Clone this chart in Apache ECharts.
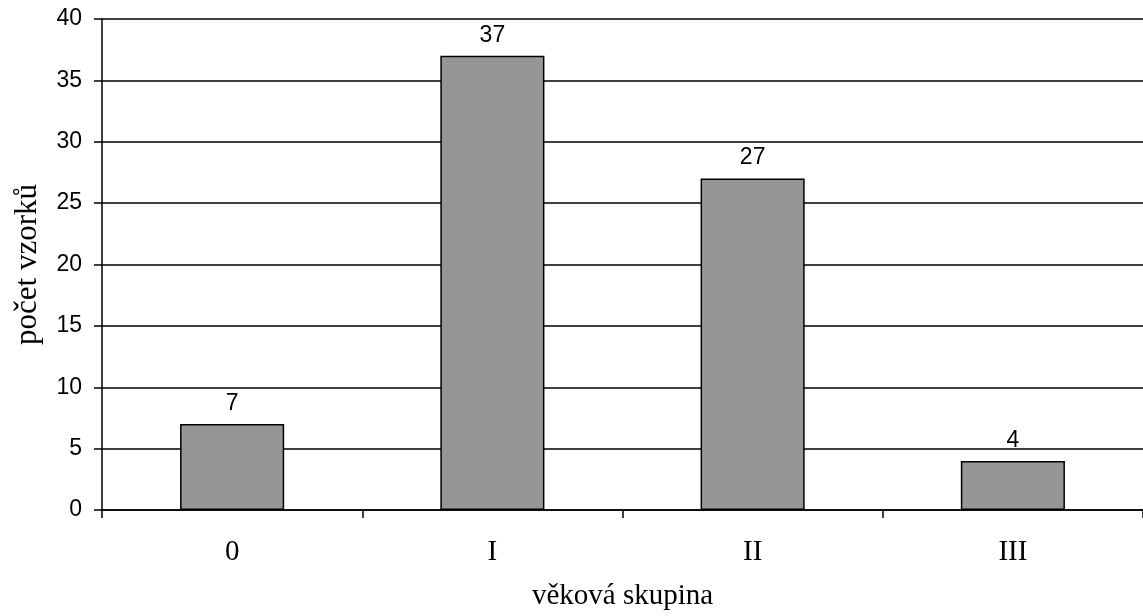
<!DOCTYPE html>
<html><head><meta charset="utf-8">
<script src="https://cdn.jsdelivr.net/npm/echarts@6/dist/echarts.min.js"></script>
<style>html,body{margin:0;padding:0;background:#fff}#c{width:1143px;height:616px}</style>
</head><body><div id="c"></div>
<script>
const categories = ['0', 'I', 'II', 'III'];
const values = [7, 37, 27, 4];
const yTicks = [0, 5, 10, 15, 20, 25, 30, 35, 40];

const chart = echarts.init(document.getElementById('c'), null, {renderer: 'canvas'});
chart.setOption({
  backgroundColor: '#fff',
  animation: false,
  grid: {left: 102, right: -8, top: 19, bottom: 104, containLabel: false},
  xAxis: {
    type: 'category',
    data: categories,
    name: 'věková skupina',
    nameLocation: 'middle',
    nameGap: 72,
    nameTextStyle: {fontFamily: 'Liberation Serif', fontSize: 29, color: '#000'},
    axisLine: {show: true, lineStyle: {color: '#000', width: 1.5}},
    axisTick: {show: true, alignWithLabel: false, length: 8, lineStyle: {color: '#000', width: 1.5}},
    axisLabel: {fontFamily: 'Liberation Serif', fontSize: 29, color: '#000', margin: 28},
    splitLine: {show: false}
  },
  yAxis: {
    type: 'value',
    min: yTicks[0], max: yTicks[yTicks.length - 1], interval: 5,
    name: 'počet vzorků',
    nameLocation: 'middle',
    nameGap: 59,
    nameRotate: 90,
    nameTextStyle: {fontFamily: 'Liberation Serif', fontSize: 31, color: '#000'},
    axisLine: {show: true, lineStyle: {color: '#000', width: 1.5}},
    axisTick: {show: true, length: 8, lineStyle: {color: '#000', width: 1.5}},
    axisLabel: {fontFamily: 'Liberation Sans', fontSize: 23, color: '#000', margin: 20},
    splitLine: {show: true, lineStyle: {color: '#000', width: 1.5}}
  },
  series: [{
    type: 'bar',
    data: values,
    barWidth: '40%',
    itemStyle: {color: '#969696', borderColor: '#000', borderWidth: 1.5},
    label: {show: true, position: 'top', distance: 9, fontFamily: 'Liberation Sans', fontSize: 23, color: '#000'}
  }]
});
</script></body></html>
